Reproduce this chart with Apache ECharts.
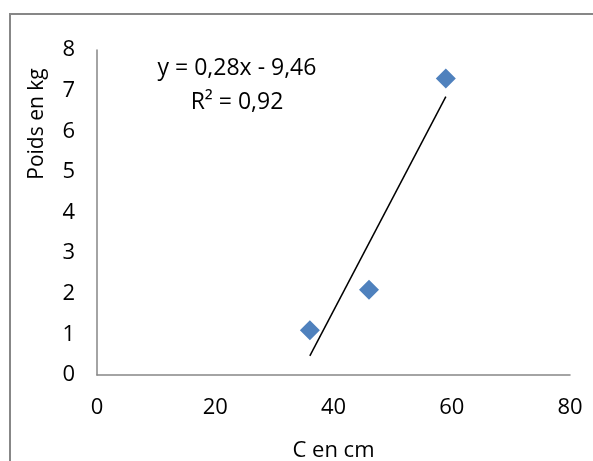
<!DOCTYPE html>
<html>
<head>
<meta charset="utf-8">
<script src="https://cdn.jsdelivr.net/npm/echarts@6/dist/echarts.min.js"></script>
<style>
html, body { margin: 0; padding: 0; background: #fff; }
#chart { width: 593px; height: 461px; }
</style>
</head>
<body>
<div id="chart"></div>
<script>
// mesures : tour (C en cm) et poids (kg)
var tourCm = [36, 46, 59];
var poidsKg = [1.1, 2.1, 7.3];
// courbe de tendance (extrémités)
var trendX = [36, 59];
var trendY = [0.47, 6.85];
var equation = 'y = 0,28x - 9,46';
var r2 = 'R² = 0,92';

var font = '"Open Sans", sans-serif';
var chart = echarts.init(document.getElementById('chart'));

var option = {
    animation: false,
    backgroundColor: '#fff',
    grid: {
        left: 97,
        top: 50,
        right: 23,
        bottom: 86,
        outerBoundsMode: 'none'
    },
    xAxis: {
        type: 'value',
        min: 0,
        max: 80,
        interval: 20,
        name: 'C en cm',
        nameLocation: 'middle',
        nameGap: 65,
        nameTextStyle: { color: '#000', fontSize: 22, fontFamily: font },
        axisLine: { show: true, lineStyle: { color: '#868686', width: 1.5 } },
        axisTick: { show: false },
        splitLine: { show: false },
        axisLabel: { color: '#000', fontSize: 22, fontFamily: font, margin: 22 }
    },
    yAxis: {
        type: 'value',
        min: 0,
        max: 8,
        interval: 1,
        axisLine: { show: true, lineStyle: { color: '#868686', width: 1.5 } },
        axisTick: { show: false },
        splitLine: { show: false },
        axisLabel: { color: '#000', fontSize: 22, fontFamily: font, margin: 22 }
    },
    graphic: [
        {
            type: 'rect',
            shape: { x: 10, y: 14, width: 700, height: 600 },
            style: { fill: 'none', stroke: '#878787', lineWidth: 2 },
            silent: true
        },
        {
            type: 'text',
            x: 37,
            y: 124,
            rotation: Math.PI / 2,
            style: {
                text: 'Poids en kg',
                fill: '#000',
                font: '21px ' + font,
                align: 'center',
                verticalAlign: 'middle'
            }
        },
        {
            type: 'text',
            x: 237,
            y: 68,
            style: {
                text: equation,
                fill: '#000',
                font: '23px ' + font,
                align: 'center',
                verticalAlign: 'middle'
            }
        },
        {
            type: 'text',
            x: 237,
            y: 102,
            style: {
                text: r2,
                fill: '#000',
                font: '23px ' + font,
                align: 'center',
                verticalAlign: 'middle'
            }
        }
    ],
    series: [
        {
            type: 'line',
            data: trendX.map(function (x, i) { return [x, trendY[i]]; }),
            symbol: 'none',
            lineStyle: { color: '#000', width: 1.5 },
            z: 2
        },
        {
            type: 'scatter',
            data: tourCm.map(function (x, i) { return [x, poidsKg[i]]; }),
            symbol: 'diamond',
            symbolSize: 20,
            itemStyle: { color: '#4F81BD', opacity: 1 },
            z: 3
        }
    ]
};

chart.setOption(option);
</script>
</body>
</html>
